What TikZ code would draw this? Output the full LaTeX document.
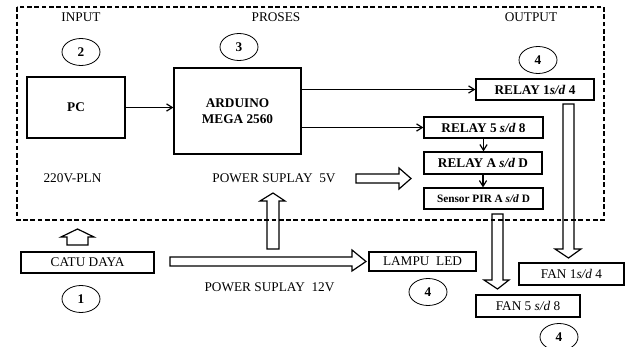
\documentclass[tikz,border=0pt]{standalone}
\usepackage{fontspec}
\setmainfont{Liberation Serif}
\usetikzlibrary{shapes.geometric, arrows.meta}

\begin{document}
\begin{tikzpicture}[x=1in,y=1in,
  font=\fontsize{10}{11.5}\selectfont,
  box/.style={draw, line width=0.9pt, inner sep=1pt},
  num/.style={draw, ellipse, line width=0.6pt, minimum width=0.3958in, minimum height=0.2813in, inner sep=0pt, font=\fontsize{10}{12}\selectfont\bfseries},
  conn/.style={line width=0.9pt, -{Straight Barb[length=0.06in,width=0.075in]}},
  hollow/.style={line width=0.9pt, fill=white, line join=miter}]
\useasboundingbox (0,0) rectangle (6.5313,3.6146);
% section labels
\node (input) at (0.8438,3.4375) {INPUT};
\node (proses) at (2.8750,3.4375) {PROSES};
\node (output) at (5.5313,3.4375) {OUTPUT};
\node (pln) at (0.7552,1.7604) {220V-PLN};
\node (ps5) at (2.8542,1.7604) {POWER SUPLAY\ \ 5V};
\node (ps12) at (2.8073,0.6219) {POWER SUPLAY\ \ 12V};
% numbers
\node[num] (n2) at (0.8438,3.0729) {2};
\node[num] (n3) at (2.4896,3.1250) {3};
\node[num] (n4a) at (5.6042,2.9896) {4};
\node[num] (n1) at (0.8438,0.5000) {1};
\node[num] (n4b) at (4.4583,0.5729) {4};
\node[num] (n4c) at (5.8229,0.1042) {4};
% blocks
\node[box, minimum width=1.0208in, minimum height=0.6354in, font=\bfseries] (pc) at (0.7917,2.4948) {PC};
\node[box, minimum width=1.3229in, minimum height=0.8958in, align=center, font=\bfseries] (arduino) at (2.4740,2.4583) {ARDUINO\\MEGA 2560};
\node[box, minimum width=1.2292in, minimum height=0.2188in, font=\bfseries] (relay1) at (5.5729,2.6823) {RELAY 1\textit{s/d} 4};
\node[box, minimum width=1.2396in, minimum height=0.2188in, font=\bfseries] (relay5) at (5.0365,2.2865) {RELAY 5 \textit{s/d} 8};
\node[box, minimum width=1.2292in, minimum height=0.2292in, font=\bfseries] (relayA) at (5.0313,1.9167) {RELAY A \textit{s/d} D};
\node[box, minimum width=1.2396in, minimum height=0.2188in, font=\fontsize{8.5}{10}\selectfont\bfseries] (sensor) at (5.0365,1.5469) {Sensor PIR A \textit{s/d} D};
\node[box, minimum width=1.3854in, minimum height=0.2188in] (catu) at (0.9115,0.8802) {CATU DAYA};
\node[box, minimum width=1.1146in, minimum height=0.1979in] (led) at (4.4010,0.8906) {LAMPU\ \ LED};
\node[box, minimum width=1.0938in, minimum height=0.2292in] (fan1) at (5.9531,0.7604) {FAN 1\textit{s/d} 4};
\node[box, minimum width=1.0833in, minimum height=0.2292in] (fan5) at (5.5000,0.4271) {FAN 5 \textit{s/d} 8};
% signal lines
\draw[conn] (pc.east) -- (pc.east -| arduino.west);
\draw[conn] (arduino.east |- relay1.west) -- (relay1.west);
\draw[conn] (arduino.east |- relay5.west) -- (relay5.west);
\draw[conn] (relay5.south) -- (relay5.south |- relayA.north);
\draw[conn] (relayA.south) -- (relayA.south |- sensor.north);
% power arrows
\draw[hollow] (0.6979,1.0625) -- (0.6979,1.1458) -- (0.6354,1.1458) -- (0.8073,1.2292) -- (0.9792,1.1458) -- (0.9167,1.1458) -- (0.9167,1.0625) -- cycle;
\draw[hollow] (2.7813,1.0208) -- (2.7813,1.5208) -- (2.7083,1.5208) -- (2.8438,1.6042) -- (2.9688,1.5208) -- (2.9063,1.5208) -- (2.9063,1.0208) -- cycle;
\draw[hollow] (1.7708,0.9375) -- (3.6667,0.9375) -- (3.6667,1.0104) -- (3.8125,0.8906) -- (3.6667,0.7917) -- (3.6667,0.8438) -- (1.7708,0.8438) -- cycle;
\draw[hollow] (3.7083,1.8021) -- (4.1563,1.8021) -- (4.1563,1.8646) -- (4.2813,1.7552) -- (4.1563,1.6458) -- (4.1563,1.7083) -- (3.7083,1.7083) -- cycle;
% output arrows
\draw[hollow] (5.1250,1.3854) -- (5.1250,0.6979) -- (5.0417,0.6979) -- (5.1823,0.6042) -- (5.3021,0.6979) -- (5.2396,0.6979) -- (5.2396,1.3854) -- cycle;
\draw[hollow] (5.8646,2.5313) -- (5.8646,1.0208) -- (5.7813,1.0208) -- (5.9219,0.9271) -- (6.0521,1.0208) -- (5.9792,1.0208) -- (5.9792,2.5313) -- cycle;
% system border
\draw[line width=1pt, dash pattern=on 3.5pt off 2pt] (0.1771,3.5417) rectangle (6.2917,1.3229);
\end{tikzpicture}
\end{document}
